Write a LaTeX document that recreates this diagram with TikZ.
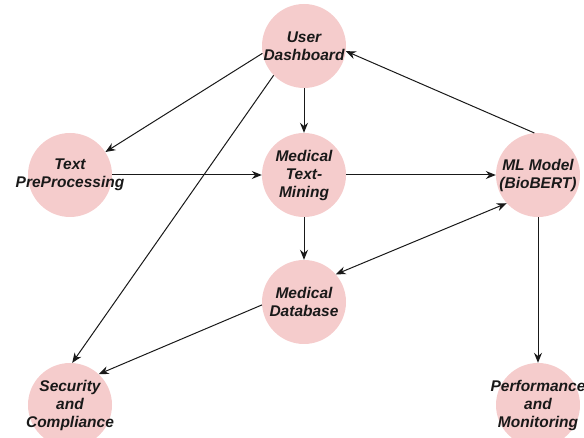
\documentclass[tikz,border=0pt]{standalone}
\usepackage{fontspec}
\setmainfont{Liberation Sans}
\usetikzlibrary{arrows.meta}
\definecolor{nodefill}{RGB}{245,204,204}
\definecolor{edgecol}{RGB}{25,25,25}
\begin{document}
\begin{tikzpicture}[x=1pt,y=-1pt,
  circ/.style={circle,fill=nodefill,minimum size=84pt,inner sep=0pt},
  lbl/.style={font=\fontsize{15.5}{18}\selectfont\bfseries\itshape,align=center,text=black!90,inner sep=0pt},
  conn/.style={draw=edgecol,line width=1pt,-{Stealth[length=10pt,width=8pt]}},
  biconn/.style={draw=edgecol,line width=1pt,{Stealth[length=10pt,width=8pt]}-{Stealth[length=10pt,width=8pt]}}]
\useasboundingbox (0,0) rectangle (584,438);
\node[circ] (ud) at (304,46) {};
\node[lbl] (udt) at (ud) {User\\Dashboard};
\node[circ] (tp) at (70,175) {};
\node[lbl] (tpt) at (tp) {Text\\PreProcessing};
\node[circ] (mtm) at (304,175) {};
\node[lbl] (mtmt) at (mtm) {Medical\\Text-\\Mining};
\node[circ] (ml) at (538,175) {};
\node[lbl] (mlt) at (ml) {ML Model\\(BioBERT)};
\node[circ] (db) at (304,302) {};
\node[lbl] (dbt) at (db) {Medical\\Database};
\node[circ] (sec) at (70,405) {};
\node[lbl] (sect) at (sec) {Security\\and\\Compliance};
\node[circ] (perf) at (538,405) {};
\node[lbl] (perft) at (perf) {Performance\\and\\Monitoring};
\draw[conn] (ud.190) -- (tp.33);
\draw[conn] (ud.south) -- (mtm.north);
\draw[conn] (ud.224) -- (sec.87);
\draw[conn] (ml.95) -- (ud.353);
\draw[conn] (tp.east) -- (mtm.west);
\draw[conn] (mtm.east) -- (ml.west);
\draw[conn] (mtm.south) -- (db.north);
\draw[biconn] (db.41) -- (ml.222);
\draw[conn] (db.184) -- (sec.47);
\draw[conn] (ml.south) -- (perf.north);
\end{tikzpicture}
\end{document}
